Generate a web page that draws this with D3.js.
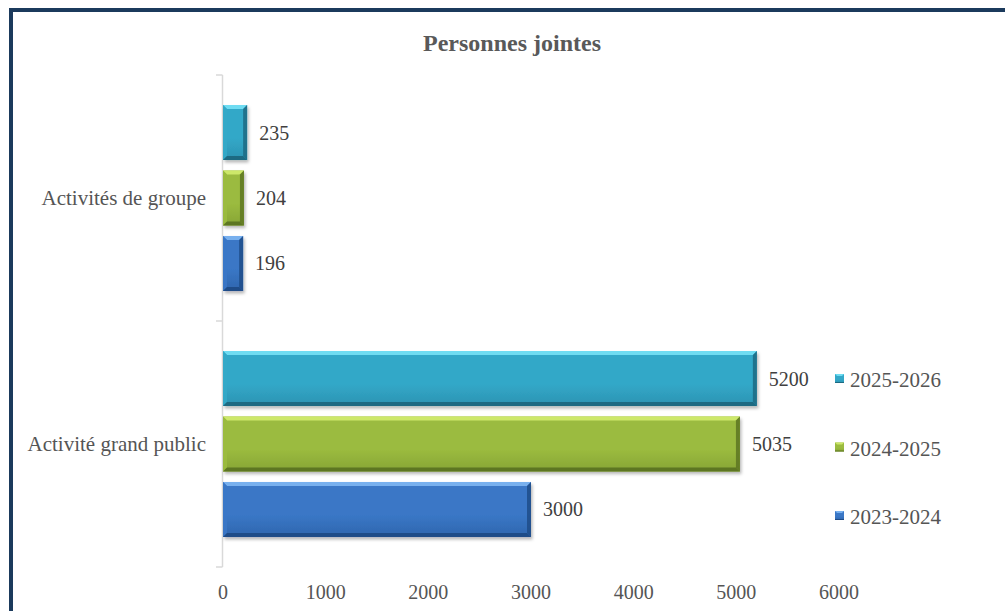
<!DOCTYPE html>
<html>
<head>
<meta charset="utf-8">
<script src="https://cdn.jsdelivr.net/npm/d3@7"></script>
<style>
  html, body { margin: 0; padding: 0; background: #ffffff; }
  svg { display: block; }
  svg text { font-family: "Liberation Serif", "Times New Roman", "DejaVu Serif", serif; }
</style>
</head>
<body>
<svg id="chart" width="1005" height="611"></svg>
<script>
// ---- Data ----
const title = "Personnes jointes";
const categories = ["Activités de groupe", "Activité grand public"];
const series = ["2025-2026", "2024-2025", "2023-2024"]; // top to bottom within each group
const values2025_2026 = [235, 5200];
const values2024_2025 = [204, 5035];
const values2023_2024 = [196, 3000];
const tickValues = [0, 1000, 2000, 3000, 4000, 5000, 6000];

const seriesValues = {
  "2025-2026": values2025_2026,
  "2024-2025": values2024_2025,
  "2023-2024": values2023_2024
};

const palette = {
  "2025-2026": { main: "#33a8c8", light: "#6fdcf2", dark: "#1d6a82", mid: "#2b93b2" },
  "2024-2025": { main: "#9bbb3f", light: "#cde86a", dark: "#5d7622", mid: "#87a535" },
  "2023-2024": { main: "#3a77c6", light: "#78b0ee", dark: "#1f4c88", mid: "#2f66ae" }
};

const svg = d3.select("#chart");
const W = 1005, H = 611;
const textColor = "#555555";

// frame
svg.append("rect").attr("x", 0).attr("y", 0).attr("width", W).attr("height", H).attr("fill", "#ffffff");
svg.append("rect")
  .attr("x", 11).attr("y", 10).attr("width", W + 20).attr("height", H + 20)
  .attr("fill", "none").attr("stroke", "#1b3a5c").attr("stroke-width", 4);

// defs
const defs = svg.append("defs");
const flt = defs.append("filter").attr("id", "shadow").attr("x", "-10%").attr("y", "-20%").attr("width", "130%").attr("height", "160%");
flt.append("feDropShadow").attr("dx", 1.5).attr("dy", 2.5).attr("stdDeviation", 1.8)
  .attr("flood-color", "#000").attr("flood-opacity", 0.28);

series.forEach((s, i) => {
  const p = palette[s];
  const g = defs.append("linearGradient").attr("id", "grad" + i)
    .attr("x1", 0).attr("y1", 0).attr("x2", 0).attr("y2", 1);
  g.append("stop").attr("offset", "0%").attr("stop-color", p.main);
  g.append("stop").attr("offset", "60%").attr("stop-color", p.main);
  g.append("stop").attr("offset", "100%").attr("stop-color", p.mid);
});

// scales
const x = d3.scaleLinear().domain([0, 6000]).range([223, 839]);
const y0 = d3.scaleBand().domain(categories).range([75, 567]).paddingInner(0).paddingOuter(0);
const y1 = d3.scaleBand().domain(series).range([0, y0.bandwidth()]).paddingInner(0.16).paddingOuter(0.458);

// title
svg.append("text")
  .attr("x", 512).attr("y", 51)
  .attr("text-anchor", "middle")
  .attr("font-weight", "bold").attr("font-size", 24)
  .attr("fill", "#595959")
  .text(title);

// y axis line + ticks
const axisG = svg.append("g");
axisG.append("line")
  .attr("x1", x(0) - 0.5).attr("x2", x(0) - 0.5)
  .attr("y1", y0.range()[0]).attr("y2", y0.range()[1])
  .attr("stroke", "#d9d9d9").attr("stroke-width", 1.5);
const yTicks = [y0.range()[0], ...categories.slice(1).map(c => y0(c)), y0.range()[1]];
axisG.selectAll("line.tk").data(yTicks).enter().append("line")
  .attr("class", "tk")
  .attr("x1", x(0) - 7).attr("x2", x(0) - 0.5)
  .attr("y1", d => d).attr("y2", d => d)
  .attr("stroke", "#d9d9d9").attr("stroke-width", 1.5);

// category labels
svg.selectAll("text.cat").data(categories).enter().append("text")
  .attr("class", "cat")
  .attr("x", 206)
  .attr("y", d => y0(d) + y0.bandwidth() / 2)
  .attr("dy", "0.35em")
  .attr("text-anchor", "end")
  .attr("font-size", 21)
  .attr("fill", textColor)
  .text(d => d);

// x tick labels
svg.selectAll("text.xt").data(tickValues).enter().append("text")
  .attr("class", "xt")
  .attr("x", d => x(d))
  .attr("y", 592)
  .attr("dy", "0.35em")
  .attr("text-anchor", "middle")
  .attr("font-size", 20)
  .attr("fill", textColor)
  .text(d => d);

// bars
const bevel = 4;
categories.forEach((cat, ci) => {
  series.forEach((s, si) => {
    const v = seriesValues[s][ci];
    const p = palette[s];
    const bx = x(0), by = y0(cat) + y1(s);
    const bw = x(v) - x(0), bh = y1.bandwidth();
    const b = Math.min(bevel, bw / 2);
    const g = svg.append("g");
    g.append("rect").attr("x", bx).attr("y", by).attr("width", bw).attr("height", bh)
      .attr("fill", "url(#grad" + si + ")").attr("filter", "url(#shadow)");
    g.append("polygon")
      .attr("points", [[bx, by], [bx + bw, by], [bx + bw - b, by + b], [bx + b, by + b]].map(d => d.join(",")).join(" "))
      .attr("fill", p.light);
    g.append("polygon")
      .attr("points", [[bx, by], [bx + b, by + b], [bx + b, by + bh - b], [bx, by + bh]].map(d => d.join(",")).join(" "))
      .attr("fill", p.main).attr("opacity", 0.9);
    g.append("polygon")
      .attr("points", [[bx + bw, by], [bx + bw, by + bh], [bx + bw - b, by + bh - b], [bx + bw - b, by + b]].map(d => d.join(",")).join(" "))
      .attr("fill", p.dark).attr("opacity", 0.85);
    g.append("polygon")
      .attr("points", [[bx, by + bh], [bx + bw, by + bh], [bx + bw - b, by + bh - b], [bx + b, by + bh - b]].map(d => d.join(",")).join(" "))
      .attr("fill", p.dark);
    svg.append("text")
      .attr("x", x(v) + 12)
      .attr("y", by + bh / 2)
      .attr("dy", "0.35em")
      .attr("font-size", 20)
      .attr("fill", "#404040")
      .text(v);
  });
});

// legend
const legendY = d3.scalePoint().domain(series).range([380, 517]);
const lg = svg.selectAll("g.lg").data(series).enter().append("g").attr("class", "lg")
  .attr("transform", d => `translate(835, ${legendY(d)})`);
lg.append("rect").attr("x", 0).attr("y", -6).attr("width", 9).attr("height", 9)
  .attr("fill", (d, i) => "url(#grad" + i + ")");
lg.append("polygon").attr("points", "0,-6 9,-6 7,-4 2,-4").attr("fill", d => palette[d].light);
lg.append("line").attr("x1", 0).attr("x2", 9).attr("y1", 2.5).attr("y2", 2.5)
  .attr("stroke", d => palette[d].dark).attr("stroke-width", 1);
lg.append("text")
  .attr("x", 15).attr("y", 0).attr("dy", "0.35em")
  .attr("font-size", 21)
  .attr("fill", textColor)
  .text(d => d);
</script>
</body>
</html>
